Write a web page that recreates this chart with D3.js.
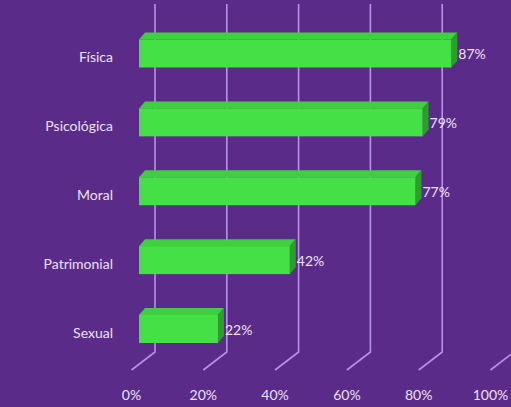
<!DOCTYPE html>
<html><head><meta charset="utf-8">
<script src="https://cdn.jsdelivr.net/npm/d3@7"></script>
<style>html,body{margin:0;padding:0;background:#5a2b88;}svg{display:block;}</style>
</head><body><svg id="c" width="511" height="407"></svg>
<script>
const categories = ["Física","Psicológica","Moral","Patrimonial","Sexual"];
const values = [87,79,77,42,22];
const ticks = [0,20,40,60,80,100];
const tickLabels = ["0%","20%","40%","60%","80%","100%"];

const svg = d3.select("#c");
const W = 511, H = 407;
svg.append("rect").attr("width",W).attr("height",H).attr("fill","#5a2b88");

const x = d3.scaleLinear().domain([0,100]).range([139,498]);
const y = d3.scalePoint().domain(categories).range([53.5,329]);
const barH = 28;
const bdx = 6, bdy = -7;          // bar depth
const wallBack = {dx:16, y:352};  // back wall base
const floorFront = {dx:-7.5, y:370};
const gridCol = "#b892e6";
const textCol = "#ece2f6";
const font = "Lato, 'Noto Sans', sans-serif";
const fs = 14;

// back wall gridlines + floor lines
const g = svg.append("g");
ticks.forEach(t=>{
  const xb = x(t)+wallBack.dx, xf = x(t)+floorFront.dx;
  g.append("path")
   .attr("d",`M${xb},4 L${xb},${wallBack.y} L${xf},${floorFront.y}`)
   .attr("fill","none").attr("stroke",gridCol).attr("stroke-width",1.6);
});

// bars
const bars = svg.append("g");
categories.forEach((c,i)=>{
  const v = values[i];
  const x0 = x(0), x1 = x(v);
  const yt = y(c)-barH/2, yb = y(c)+barH/2;
  bars.append("path")
   .attr("d",`M${x0},${yt} L${x0+bdx},${yt+bdy} L${x1+bdx},${yt+bdy} L${x1},${yt} Z`)
   .attr("fill","#3fcf3f");
  bars.append("path")
   .attr("d",`M${x1},${yt} L${x1+bdx},${yt+bdy} L${x1+bdx},${yb+bdy} L${x1},${yb} Z`)
   .attr("fill","#2c9e2c");
  bars.append("rect").attr("x",x0).attr("y",yt).attr("width",x1-x0).attr("height",barH)
   .attr("fill","#45e045");
  bars.append("text").attr("x",x1+bdx+1).attr("y",y(c)+2)
   .attr("dominant-baseline","middle")
   .attr("fill",textCol).attr("font-family",font).attr("font-size",fs)
   .text(v+"%");
  bars.append("text").attr("x",113).attr("y",y(c)+5)
   .attr("text-anchor","end").attr("dominant-baseline","middle")
   .attr("fill",textCol).attr("font-family",font).attr("font-size",fs)
   .text(c);
});

// tick labels
ticks.forEach((t,i)=>{
  svg.append("text").attr("x",x(t)+floorFront.dx).attr("y",396)
   .attr("text-anchor","middle").attr("dominant-baseline","middle")
   .attr("fill",textCol).attr("font-family",font).attr("font-size",fs)
   .text(tickLabels[i]);
});
</script></body></html>
